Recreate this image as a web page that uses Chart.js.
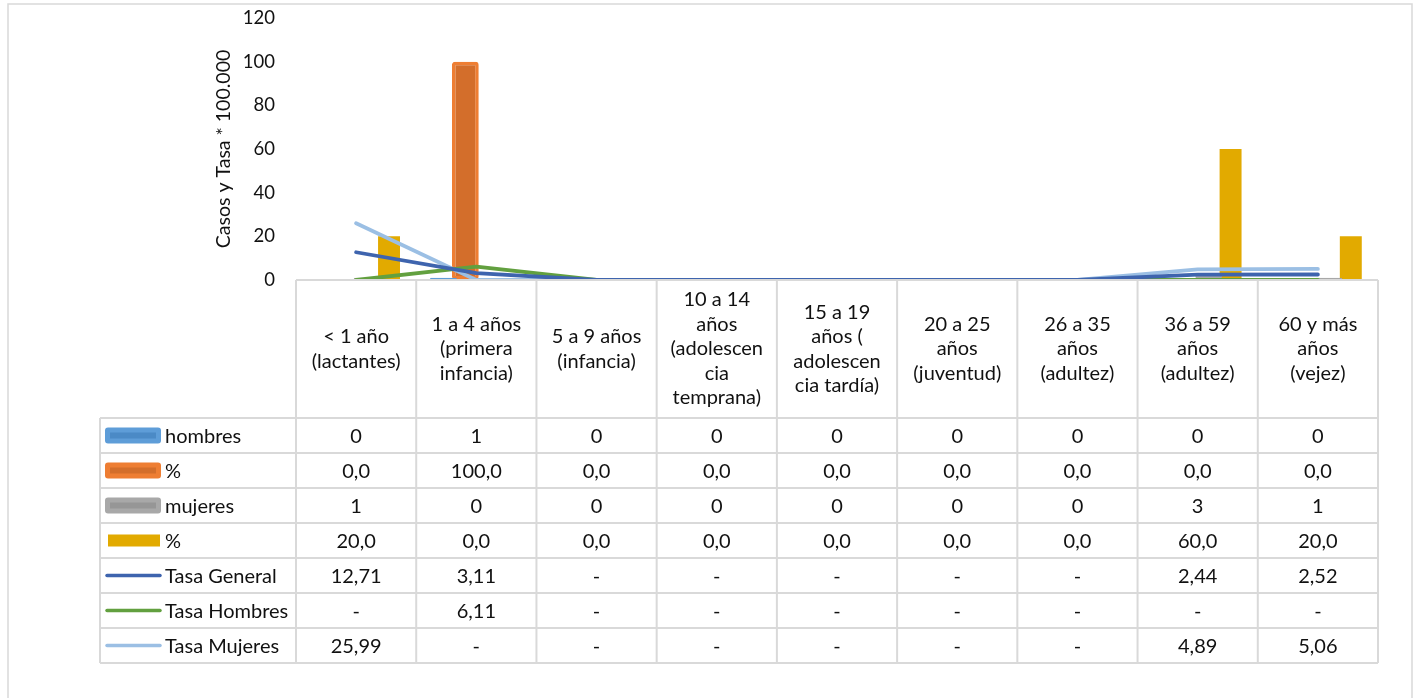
<!DOCTYPE html>
<html>
<head>
<meta charset="utf-8">
<script src="https://cdn.jsdelivr.net/npm/chart.js@4.4.0/dist/chart.umd.min.js"></script>
<style>
  html, body { margin: 0; padding: 0; background: #fff; }
  #wrap { width: 1416px; height: 698px; position: relative; }
</style>
</head>
<body>
<div id="wrap"><canvas id="c" width="1416" height="698"></canvas></div>
<script>
// Age groups (header cells of the data table, one array entry per line)
const categories = [
  ['< 1 año', '(lactantes)'],
  ['1 a 4 años', '(primera', 'infancia)'],
  ['5 a 9 años', '(infancia)'],
  ['10 a 14', 'años', '(adolescen', 'cia', 'temprana)'],
  ['15 a 19', 'años (', 'adolescen', 'cia tardía)'],
  ['20 a 25', 'años', '(juventud)'],
  ['26 a 35', 'años', '(adultez)'],
  ['36 a 59', 'años', '(adultez)'],
  ['60 y más', 'años', '(vejez)']
];

// Cases and shares by sex
const hombres     = [0, 1, 0, 0, 0, 0, 0, 0, 0];
const pctHombres  = [0.0, 100.0, 0.0, 0.0, 0.0, 0.0, 0.0, 0.0, 0.0];
const mujeres     = [1, 0, 0, 0, 0, 0, 0, 3, 1];
const pctMujeres  = [20.0, 0.0, 0.0, 0.0, 0.0, 0.0, 0.0, 60.0, 20.0];

// Rates per 100.000 (0 is shown as "-" in the table)
const tasaGeneral = [12.71, 3.11, 0, 0, 0, 0, 0, 2.44, 2.52];
const tasaHombres = [0, 6.11, 0, 0, 0, 0, 0, 0, 0];
const tasaMujeres = [25.99, 0, 0, 0, 0, 0, 0, 4.89, 5.06];

// Y axis ticks
const yTicks = [0, 20, 40, 60, 80, 100, 120];
const yTitle = 'Casos y Tasa * 100.000';

const FONT = 'Lato, "Open Sans", "DejaVu Sans", sans-serif';
const TEXT = '#111111';
const GRID = '#D9D9D9';

const fmtInt  = v => String(v);
const fmtPct  = v => v.toFixed(1).replace('.', ',');
const fmtTasa = v => (v === 0 ? '-' : v.toFixed(2).replace('.', ','));

const series = [
  { label: 'hombres',       data: hombres,     fmt: fmtInt,  kind: 'bar',  fill: '#4B8AC6', edge: '#5E9DD8' },
  { label: '%',             data: pctHombres,  fmt: fmtPct,  kind: 'bar',  fill: '#D36E2B', edge: '#EE7E33' },
  { label: 'mujeres',       data: mujeres,     fmt: fmtInt,  kind: 'bar',  fill: '#969696', edge: '#A8A8A8' },
  { label: '%',             data: pctMujeres,  fmt: fmtPct,  kind: 'flat', fill: '#E2AA00', edge: '#E2AA00' },
  { label: 'Tasa General',  data: tasaGeneral, fmt: fmtTasa, kind: 'line', color: '#3E64AE' },
  { label: 'Tasa Hombres',  data: tasaHombres, fmt: fmtTasa, kind: 'line', color: '#62A03F' },
  { label: 'Tasa Mujeres',  data: tasaMujeres, fmt: fmtTasa, kind: 'line', color: '#9BBFE4' }
];

const datasets = series.map(s => {
  if (s.kind === 'line') {
    return {
      type: 'line', label: s.label, data: s.data, order: 0,
      borderColor: s.color, backgroundColor: s.color, borderWidth: 3.8,
      pointRadius: 0, tension: 0, borderCapStyle: 'round', borderJoinStyle: 'round'
    };
  }
  const glow = s.kind === 'bar';
  return {
    type: 'bar', label: s.label, data: s.data, order: 1,
    backgroundColor: s.fill, borderColor: s.edge,
    borderWidth: glow ? 3.5 : 0, borderRadius: glow ? 3 : 0,
    borderSkipped: false,
    barPercentage: glow ? 1.22 : 1.0, categoryPercentage: 0.73
  };
});

// Layout of the data table under the plot
const HEADER_BOTTOM = 418;
const ROW_H = 35;
const LEGEND_LEFT = 100;
const HEADER_LINE_H = 24.5;
const TABLE_FONT = '20px ' + FONT;

const tablePlugin = {
  id: 'dataTable',
  beforeDraw(chart) {
    const ctx = chart.ctx;
    ctx.save();
    ctx.fillStyle = '#ffffff';
    ctx.fillRect(0, 0, chart.width, chart.height);
    // outer chart frame
    ctx.strokeStyle = GRID;
    ctx.lineWidth = 1.5;
    ctx.strokeRect(8, 4, 1404, 720);
    ctx.restore();
  },
  afterDraw(chart) {
    const ctx = chart.ctx;
    const a = chart.chartArea;
    const n = categories.length;
    const cw = (a.right - a.left) / n;
    const top = a.bottom;
    const bottom = HEADER_BOTTOM + ROW_H * series.length;

    ctx.save();
    ctx.strokeStyle = GRID;
    ctx.lineWidth = 2;
    ctx.beginPath();
    // header top edge
    ctx.moveTo(a.left, top); ctx.lineTo(a.right, top);
    // row separators
    for (let r = 0; r <= series.length; r++) {
      const y = HEADER_BOTTOM + r * ROW_H;
      ctx.moveTo(LEGEND_LEFT, y); ctx.lineTo(a.right, y);
    }
    // column separators
    for (let i = 0; i <= n; i++) {
      const x = a.left + i * cw;
      ctx.moveTo(x, top); ctx.lineTo(x, bottom);
    }
    ctx.moveTo(LEGEND_LEFT, HEADER_BOTTOM); ctx.lineTo(LEGEND_LEFT, bottom);
    ctx.stroke();

    // header labels
    ctx.fillStyle = TEXT;
    ctx.font = TABLE_FONT;
    ctx.textAlign = 'center';
    ctx.textBaseline = 'middle';
    const headMid = (top + HEADER_BOTTOM) / 2;
    categories.forEach((lines, i) => {
      const cx = chart.scales.x.getPixelForValue(i);
      const y0 = headMid - (lines.length - 1) * HEADER_LINE_H / 2;
      lines.forEach((t, k) => ctx.fillText(t, cx, y0 + k * HEADER_LINE_H));
    });

    // rows: legend key, name and values
    series.forEach((s, r) => {
      const yMid = HEADER_BOTTOM + r * ROW_H + ROW_H / 2;
      if (s.kind === 'line') {
        ctx.strokeStyle = s.color;
        ctx.lineWidth = 3.5;
        ctx.lineCap = 'round';
        ctx.beginPath();
        ctx.moveTo(107, yMid); ctx.lineTo(160, yMid);
        ctx.stroke();
      } else if (s.kind === 'flat') {
        ctx.fillStyle = s.fill;
        ctx.fillRect(108, yMid - 6, 52, 12);
      } else {
        ctx.fillStyle = s.edge;
        ctx.beginPath();
        ctx.roundRect(105, yMid - 8, 56, 16, 3);
        ctx.fill();
        ctx.fillStyle = s.fill;
        ctx.fillRect(110, yMid - 3, 46, 6);
      }
      ctx.fillStyle = TEXT;
      ctx.textAlign = 'left';
      ctx.fillText(s.label, 165, yMid + 1);
      ctx.textAlign = 'center';
      s.data.forEach((v, i) => {
        ctx.fillText(s.fmt(v), chart.scales.x.getPixelForValue(i), yMid + 1);
      });
    });
    ctx.restore();
  }
};

new Chart(document.getElementById('c'), {
  type: 'bar',
  data: { labels: categories.map(c => c.join(' ')), datasets },
  options: {
    responsive: false,
    animation: false,
    layout: { padding: { left: 208, right: 38, top: 18, bottom: 418 } },
    plugins: { legend: { display: false }, tooltip: { enabled: false } },
    scales: {
      x: { display: false, offset: true, grid: { display: false } },
      y: {
        min: 0, max: 120,
        afterBuildTicks(scale) { scale.ticks = yTicks.map(v => ({ value: v })); },
        afterFit(scale) { scale.width = 88; },
        // invisible tick marks keep the labels clear of the plot
        grid: { display: true, color: 'rgba(0,0,0,0)', drawOnChartArea: false, drawTicks: true, tickLength: 21 },
        border: { display: false },
        ticks: { padding: 0, color: TEXT, font: { family: FONT, size: 18.5 } },
        title: { display: true, text: yTitle, color: TEXT, font: { family: FONT, size: 19.5 } }
      }
    }
  },
  plugins: [tablePlugin]
});
</script>
</body>
</html>
